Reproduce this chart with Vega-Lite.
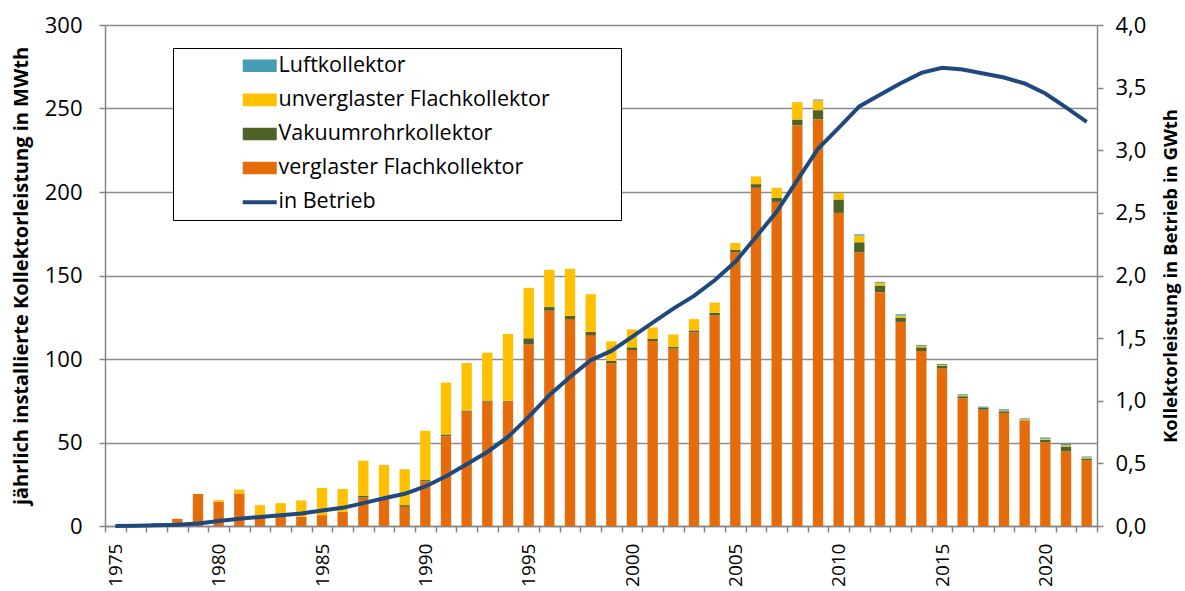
{
  "$schema": "https://vega.github.io/schema/vega-lite/v6.json",
  "width": 992,
  "height": 501,
  "autosize": "none",
  "padding": {"left": 105, "top": 25, "right": 88, "bottom": 65},
  "background": "white",
  "config": {
    "font": "Open Sans",
    "view": {"stroke": null},
    "axis": {"labelColor": "black", "titleColor": "black", "domainColor": "#868686", "tickColor": "#868686", "domainWidth": 1.5, "tickWidth": 1.5}
  },
  "data": {
    "values": [
      {"Jahr": 1975, "verglast": 0, "vakuum": 0, "unverglast": 0, "luft": 0, "betrieb": 0.0},
      {"Jahr": 1976, "verglast": 1.2, "vakuum": 0, "unverglast": 0, "luft": 0, "betrieb": 0.002},
      {"Jahr": 1977, "verglast": 1.8, "vakuum": 0, "unverglast": 0, "luft": 0, "betrieb": 0.005},
      {"Jahr": 1978, "verglast": 4.3, "vakuum": 0, "unverglast": 0, "luft": 0, "betrieb": 0.01},
      {"Jahr": 1979, "verglast": 19.2, "vakuum": 0, "unverglast": 0, "luft": 0, "betrieb": 0.02},
      {"Jahr": 1980, "verglast": 14.5, "vakuum": 0, "unverglast": 1.0, "luft": 0, "betrieb": 0.04},
      {"Jahr": 1981, "verglast": 19.5, "vakuum": 0, "unverglast": 2.3, "luft": 0, "betrieb": 0.058},
      {"Jahr": 1982, "verglast": 6.0, "vakuum": 0, "unverglast": 6.5, "luft": 0, "betrieb": 0.072},
      {"Jahr": 1983, "verglast": 7.5, "vakuum": 0, "unverglast": 6.2, "luft": 0, "betrieb": 0.085},
      {"Jahr": 1984, "verglast": 5.5, "vakuum": 0, "unverglast": 9.8, "luft": 0, "betrieb": 0.1},
      {"Jahr": 1985, "verglast": 6.5, "vakuum": 0, "unverglast": 16.3, "luft": 0, "betrieb": 0.123},
      {"Jahr": 1986, "verglast": 8.5, "vakuum": 0, "unverglast": 13.7, "luft": 0, "betrieb": 0.145},
      {"Jahr": 1987, "verglast": 17.0, "vakuum": 1.0, "unverglast": 21.1, "luft": 0, "betrieb": 0.183},
      {"Jahr": 1988, "verglast": 17.0, "vakuum": 0.5, "unverglast": 19.0, "luft": 0, "betrieb": 0.222},
      {"Jahr": 1989, "verglast": 11.5, "vakuum": 1.0, "unverglast": 21.5, "luft": 0, "betrieb": 0.257},
      {"Jahr": 1990, "verglast": 26.7, "vakuum": 0.8, "unverglast": 29.5, "luft": 0, "betrieb": 0.316},
      {"Jahr": 1991, "verglast": 53.8, "vakuum": 1.0, "unverglast": 31.1, "luft": 0, "betrieb": 0.397},
      {"Jahr": 1992, "verglast": 68.5, "vakuum": 0.6, "unverglast": 28.5, "luft": 0, "betrieb": 0.493},
      {"Jahr": 1993, "verglast": 74.5, "vakuum": 0.6, "unverglast": 28.7, "luft": 0, "betrieb": 0.591},
      {"Jahr": 1994, "verglast": 74.5, "vakuum": 0.5, "unverglast": 40.0, "luft": 0, "betrieb": 0.711},
      {"Jahr": 1995, "verglast": 108.8, "vakuum": 3.6, "unverglast": 30.2, "luft": 0, "betrieb": 0.871},
      {"Jahr": 1996, "verglast": 128.9, "vakuum": 2.2, "unverglast": 22.3, "luft": 0, "betrieb": 1.044},
      {"Jahr": 1997, "verglast": 123.9, "vakuum": 2.0, "unverglast": 28.1, "luft": 0, "betrieb": 1.19},
      {"Jahr": 1998, "verglast": 114.3, "vakuum": 2.0, "unverglast": 22.5, "luft": 0, "betrieb": 1.323},
      {"Jahr": 1999, "verglast": 97.4, "vakuum": 1.4, "unverglast": 11.8, "luft": 0, "betrieb": 1.398},
      {"Jahr": 2000, "verglast": 105.4, "vakuum": 1.6, "unverglast": 10.7, "luft": 0, "betrieb": 1.51},
      {"Jahr": 2001, "verglast": 110.8, "vakuum": 1.4, "unverglast": 6.7, "luft": 0, "betrieb": 1.624},
      {"Jahr": 2002, "verglast": 106.2, "vakuum": 1.0, "unverglast": 7.5, "luft": 0, "betrieb": 1.736},
      {"Jahr": 2003, "verglast": 115.9, "vakuum": 1.2, "unverglast": 6.8, "luft": 0, "betrieb": 1.837},
      {"Jahr": 2004, "verglast": 126.0, "vakuum": 1.6, "unverglast": 6.2, "luft": 0, "betrieb": 1.962},
      {"Jahr": 2005, "verglast": 163.9, "vakuum": 1.4, "unverglast": 4.2, "luft": 0, "betrieb": 2.109},
      {"Jahr": 2006, "verglast": 202.5, "vakuum": 2.2, "unverglast": 4.6, "luft": 0, "betrieb": 2.308},
      {"Jahr": 2007, "verglast": 194.1, "vakuum": 2.4, "unverglast": 6.0, "luft": 0, "betrieb": 2.508},
      {"Jahr": 2008, "verglast": 240.0, "vakuum": 3.4, "unverglast": 10.4, "luft": 0, "betrieb": 2.761},
      {"Jahr": 2009, "verglast": 243.6, "vakuum": 5.4, "unverglast": 5.8, "luft": 0.6, "betrieb": 3.012},
      {"Jahr": 2010, "verglast": 187.5, "vakuum": 8.0, "unverglast": 4.0, "luft": 0.2, "betrieb": 3.178},
      {"Jahr": 2011, "verglast": 163.9, "vakuum": 6.0, "unverglast": 4.0, "luft": 0.8, "betrieb": 3.35},
      {"Jahr": 2012, "verglast": 140.0, "vakuum": 4.0, "unverglast": 1.6, "luft": 0.6, "betrieb": 3.443},
      {"Jahr": 2013, "verglast": 122.2, "vakuum": 2.6, "unverglast": 1.2, "luft": 0.8, "betrieb": 3.535},
      {"Jahr": 2014, "verglast": 104.8, "vakuum": 2.2, "unverglast": 0.8, "luft": 0.6, "betrieb": 3.618},
      {"Jahr": 2015, "verglast": 94.4, "vakuum": 1.4, "unverglast": 0.6, "luft": 0.6, "betrieb": 3.658},
      {"Jahr": 2016, "verglast": 76.5, "vakuum": 1.2, "unverglast": 0.6, "luft": 0.6, "betrieb": 3.645},
      {"Jahr": 2017, "verglast": 69.7, "vakuum": 1.2, "unverglast": 0.0, "luft": 0.6, "betrieb": 3.613},
      {"Jahr": 2018, "verglast": 67.7, "vakuum": 1.0, "unverglast": 0.4, "luft": 0.8, "betrieb": 3.581},
      {"Jahr": 2019, "verglast": 63.3, "vakuum": 0.0, "unverglast": 0.6, "luft": 0.6, "betrieb": 3.533},
      {"Jahr": 2020, "verglast": 50.2, "vakuum": 1.4, "unverglast": 0.6, "luft": 0.8, "betrieb": 3.453},
      {"Jahr": 2021, "verglast": 44.6, "vakuum": 3.0, "unverglast": 0.8, "luft": 1.0, "betrieb": 3.342},
      {"Jahr": 2022, "verglast": 39.4, "vakuum": 1.0, "unverglast": 0.6, "luft": 0.6, "betrieb": 3.227}
    ]
  },
  "encoding": {
    "x": {
      "field": "Jahr",
      "type": "ordinal",
      "scale": {"paddingInner": 0, "paddingOuter": 0},
      "axis": {
        "title": null,
        "labelAngle": -90,
        "labelAlign": "right",
        "labelBaseline": "middle",
        "labelExpr": "datum.value % 5 === 0 ? datum.label : ''",
        "labelOverlap": false,
        "tickBand": "extent",
        "tickSize": 6,
        "labelPadding": 11,
        "labelFontSize": 19,
        "grid": false
      }
    }
  },
  "layer": [
    {
      "transform": [
        {"fold": ["verglast", "vakuum", "unverglast", "luft"], "as": ["key", "wert"]},
        {
          "lookup": "key",
          "from": {
            "data": {
              "values": [
                {"key": "verglast", "label": "verglaster Flachkollektor", "rang": 1},
                {"key": "vakuum", "label": "Vakuumrohrkollektor", "rang": 2},
                {"key": "unverglast", "label": "unverglaster Flachkollektor", "rang": 3},
                {"key": "luft", "label": "Luftkollektor", "rang": 4}
              ]
            },
            "key": "key",
            "fields": ["label", "rang"]
          }
        }
      ],
      "mark": {"type": "bar", "width": {"band": 0.5}},
      "encoding": {
        "y": {
          "field": "wert",
          "type": "quantitative",
          "stack": "zero",
          "scale": {"domain": [0, 300], "nice": false},
          "axis": {
            "title": "jährlich installierte Kollektorleistung in MWth",
            "values": [0, 50, 100, 150, 200, 250, 300],
            "grid": true,
            "gridColor": "#8C8C8C",
            "gridWidth": 1.5,
            "tickSize": 6,
            "labelPadding": 17,
            "labelFontSize": 22,
            "titleFontSize": 20,
            "titleFontWeight": "bold",
            "titlePadding": 13
          }
        },
        "color": {
          "field": "label",
          "type": "nominal",
          "scale": {
            "domain": ["Luftkollektor", "unverglaster Flachkollektor", "Vakuumrohrkollektor", "verglaster Flachkollektor", "in Betrieb"],
            "range": ["#459CB4", "#FFC000", "#4F6228", "#E46C0A", "#1F497D"]
          },
          "legend": {
            "title": null,
            "orient": "none",
            "legendX": 68,
            "legendY": 23,
            "padding": 7,
            "rowPadding": 11.1,
            "symbolOffset": 69,
            "symbolSize": 1156,
            "labelOffset": 8,
            "labelFontSize": 21.5,
            "labelColor": "black",
            "labelLimit": 600,
            "labelExpr": "datum.label === 'unverglaster Flachkollektor' ? datum.label + '\u2800\u2800\u2800\u2800' : datum.label",
            "strokeColor": "black",
            "fillColor": "white",
            "encode": {
              "symbols": {
                "update": {
                  "shape": {"signal": "datum.value === 'in Betrieb' ? 'M-1,0H1' : 'M-1,-0.37H1V0.37H-1Z'"},
                  "fill": {"signal": "datum.value === 'in Betrieb' ? 'transparent' : scale('color', datum.value)"},
                  "stroke": {"signal": "datum.value === 'in Betrieb' ? scale('color', datum.value) : 'transparent'"},
                  "strokeWidth": {"signal": "datum.value === 'in Betrieb' ? 4 : 0"},
                  "opacity": {"value": 1}
                }
              }
            }
          }
        },
        "order": {"field": "rang", "type": "quantitative"}
      }
    },
    {
      "mark": {"type": "line", "strokeWidth": 4},
      "encoding": {
        "y": {
          "field": "betrieb",
          "type": "quantitative",
          "scale": {"domain": [0, 4], "nice": false},
          "axis": {
            "orient": "right",
            "title": "Kollektorleistung in Betrieb in GWth",
            "values": [0, 0.5, 1, 1.5, 2, 2.5, 3, 3.5, 4],
            "labelExpr": "replace(format(datum.value, '.1f'), '.', ',')",
            "grid": false,
            "tickSize": 6,
            "labelPadding": 12,
            "labelFontSize": 22,
            "titleFontSize": 18.5,
            "titleFontWeight": "bold",
            "titleAngle": 270,
            "titleBaseline": "top",
            "titlePadding": 16
          }
        },
        "color": {"datum": "in Betrieb"}
      }
    }
  ],
  "resolve": {"scale": {"y": "independent"}}
}
